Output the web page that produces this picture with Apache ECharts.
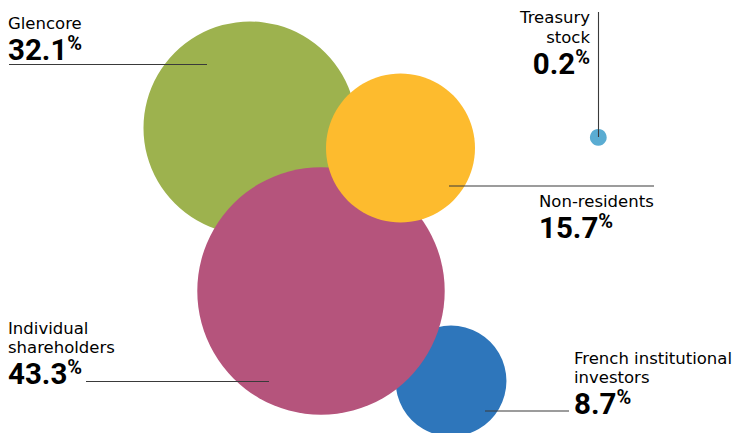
<!DOCTYPE html>
<html>
<head>
<meta charset="utf-8">
<script src="https://cdn.jsdelivr.net/npm/echarts@6/dist/echarts.min.js"></script>
<style>
  html, body { margin: 0; padding: 0; background: #ffffff; }
  #chart { width: 736px; height: 433px; }
</style>
</head>
<body>
<div id="chart"></div>
<script>
// ---- data ----
const categories = ['French institutional\ninvestors', 'Glencore', 'Individual\nshareholders', 'Non-residents', 'Treasury\nstock'];
const shares = [8.7, 32.1, 43.3, 15.7, 0.2];
const colors = ['#2e76bb', '#9db24e', '#b5547c', '#fdbb2e', '#5aacd2'];

// ---- layout (bubble centres & label anchors, in chart units) ----
const bubbleX = [451, 250, 321, 400.5, 598.3];
const bubbleY = [381, 128, 291, 148, 137.4];
const labelSpec = [
  { x: 574, align: 'left',  first: 363.3, line: [[485, 411], [569, 411]] },
  { x: 8,   align: 'left',  first: 28.0,  line: [[9, 64.5], [207, 64.5]] },
  { x: 8,   align: 'left',  first: 333.3, line: [[86, 381.5], [269, 381.5]] },
  { x: 539, align: 'left',  first: 206.5, line: [[449, 186], [654, 186]] },
  { x: 590, align: 'right', first: 22.8,  line: [[598.5, 12], [598.5, 137]] }
];
const SCALE = 18.8; // radius per sqrt(%)

const REG_FAMILY = '"DejaVu Sans", Roboto, sans-serif';
const BOLD_FAMILY = 'Roboto, "DejaVu Sans", sans-serif';
const REG = 16.5, BOLD = 29.5, PCT = 20, LINE_H = 19.4, VAL_H = 32, PCT_H = 24;

const chart = echarts.init(document.getElementById('chart'), null, { renderer: 'svg' });

const scatterData = categories.map((c, i) => ({
  name: c,
  value: [bubbleX[i], bubbleY[i], shares[i]],
  itemStyle: { color: colors[i], opacity: 1 }
}));

const richStyles = {
  r: { fontFamily: REG_FAMILY, fontWeight: 400, fontSize: REG, lineHeight: LINE_H, color: '#3d3d3d' },
  v: { fontFamily: BOLD_FAMILY, fontWeight: 700, fontSize: BOLD, lineHeight: VAL_H, color: '#231f20', verticalAlign: 'bottom' },
  p: { fontFamily: BOLD_FAMILY, fontWeight: 700, fontSize: PCT, lineHeight: PCT_H, color: '#231f20', verticalAlign: 'top' }
};

chart.setOption({
  animation: false,
  backgroundColor: '#ffffff',
  grid: { left: 0, right: 0, top: 0, bottom: 0 },
  xAxis: { type: 'value', min: 0, max: 736, show: false },
  yAxis: { type: 'value', min: 0, max: 433, inverse: true, show: false },
  series: [
    {
      type: 'scatter',
      data: scatterData,
      symbol: 'circle',
      symbolSize: v => 2 * SCALE * Math.sqrt(v[2]),
      emphasis: { disabled: true },
      z: 2
    },
    {
      type: 'custom',
      z: 5,
      silent: true,
      data: categories.map((c, i) => [i]),
      renderItem: function (params, api) {
        const i = api.value(0);
        const s = labelSpec[i];
        const p1 = api.coord(s.line[0]);
        const p2 = api.coord(s.line[1]);
        const nameLines = categories[i].split('\n').map(t => '{r|' + t + '}');
        const text = nameLines.join('\n') + '\n{v|' + shares[i].toFixed(1) + '}{p|%}';
        const anchor = api.coord([s.x, s.first]);
        return {
          type: 'group',
          children: [
            {
              type: 'line',
              shape: { x1: p1[0], y1: p1[1], x2: p2[0], y2: p2[1] },
              style: { stroke: '#3a3a3a', lineWidth: 1.1 }
            },
            {
              type: 'text',
              style: {
                x: anchor[0],
                y: anchor[1] - 0.3 * REG - LINE_H / 2,
                text: text,
                rich: richStyles,
                align: s.align,
                verticalAlign: 'top'
              }
            }
          ]
        };
      }
    }
  ]
});
</script>
</body>
</html>
